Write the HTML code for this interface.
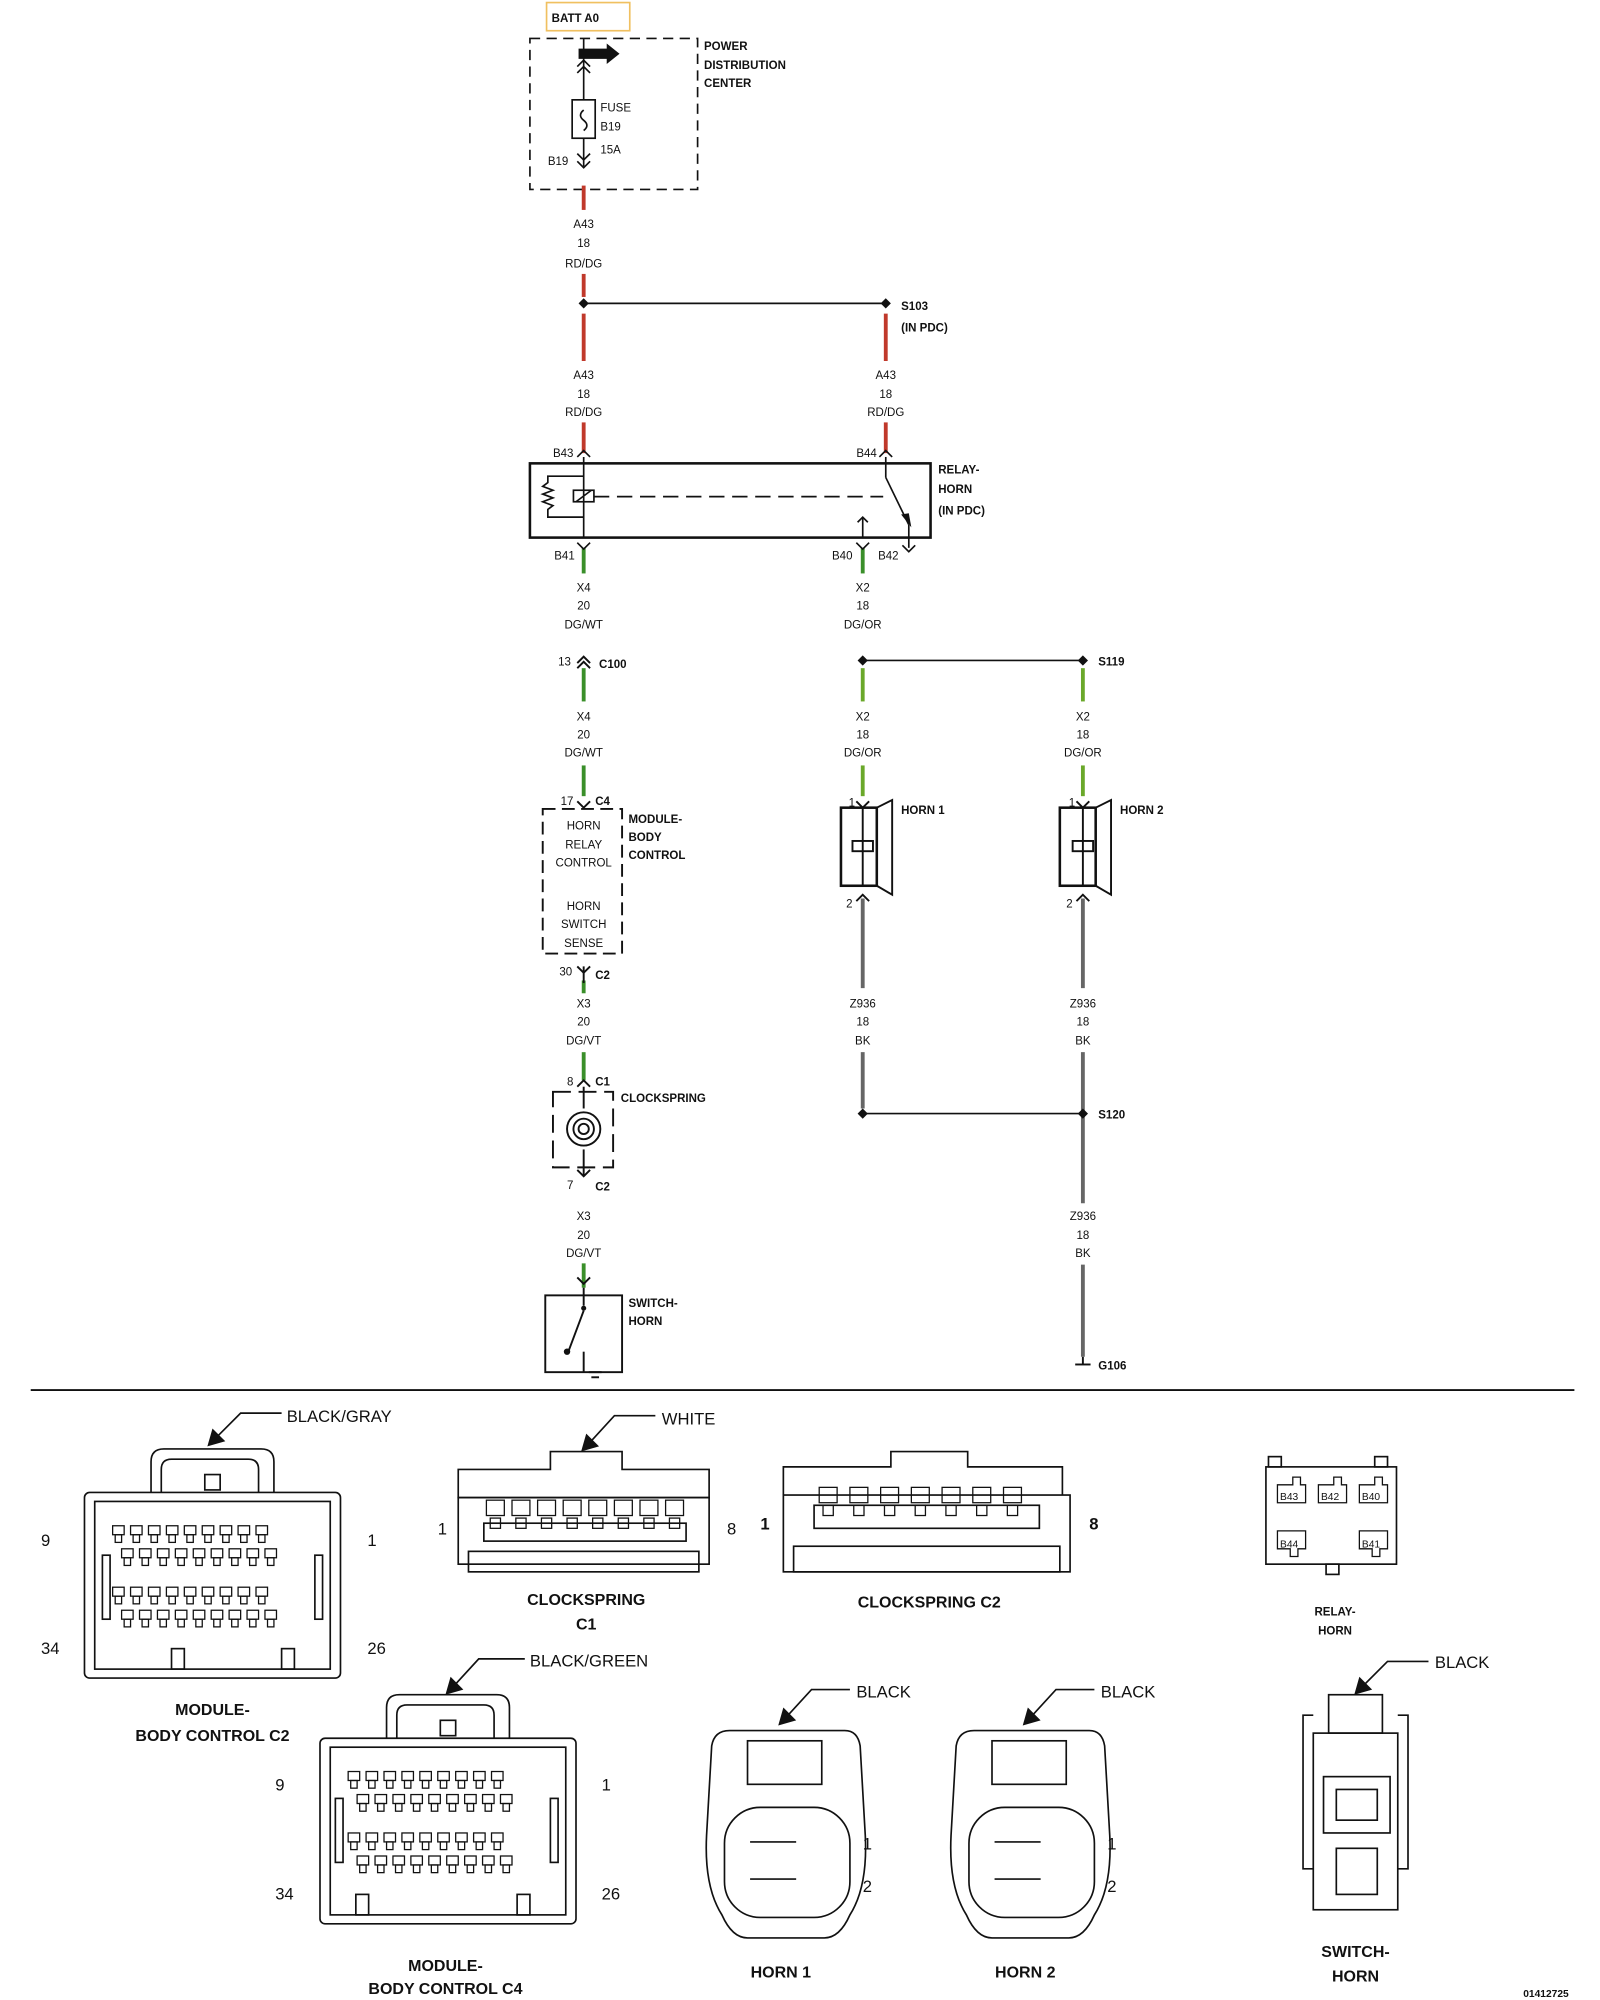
<!DOCTYPE html>
<html><head><meta charset="utf-8"><style>
html,body{margin:0;padding:0;background:#fff;}
svg{display:block;}
text{font-family:"Liberation Sans",sans-serif;font-size:9px;fill:#111;}
.b{font-weight:bold;}
.c{text-anchor:middle;}
.L{font-size:13px;}
.LB{font-size:12.5px;font-weight:bold;text-anchor:middle;}
</style></head><body>
<svg width="1600" height="2000" viewBox="0 0 1250 1562.5" xmlns="http://www.w3.org/2000/svg">
<rect width="1250" height="1562.5" fill="#fff"/>
<g fill="none" stroke="#111" stroke-width="1.3">
<rect x="427" y="2" width="65" height="22" stroke="#f0c060" fill="#fff"/>
<rect x="414" y="30" width="131" height="118" stroke-dasharray="8,5"/>
<line x1="456" y1="30" x2="456" y2="78"/>
<rect x="447" y="78" width="18" height="30"/>
<path d="M456 86 q-5 4 0 8 q5 4 0 8"/>
<line x1="456" y1="108" x2="456" y2="130"/>
<path d="M451 52 l5 -5 l5 5 M451 57 l5 -5 l5 5"/>
<path d="M451 120 l5 5 l5 -5 M451 126 l5 5 l5 -5"/>
</g>
<path d="M452 38 h22 v-4 l10 8 l-10 8 v-4 h-22z" fill="#111"/>
<text x="431" y="17" class="b">BATT A0</text>
<text x="550" y="39" class="b">POWER</text><text x="550" y="54" class="b">DISTRIBUTION</text><text x="550" y="68" class="b">CENTER</text>
<text x="469" y="87">FUSE</text><text x="469" y="102">B19</text><text x="469" y="120">15A</text>
<text x="428" y="129">B19</text>
<g stroke-width="3" fill="none">
<line x1="456" y1="145" x2="456" y2="164" stroke="#c0392b"/>
<line x1="456" y1="214" x2="456" y2="232" stroke="#c0392b"/>
<line x1="456" y1="245" x2="456" y2="282" stroke="#c0392b"/>
<line x1="692" y1="245" x2="692" y2="282" stroke="#c0392b"/>
<line x1="456" y1="330" x2="456" y2="354" stroke="#c0392b"/>
<line x1="692" y1="330" x2="692" y2="354" stroke="#c0392b"/>
<line x1="456" y1="428" x2="456" y2="448" stroke="#3a8f2a"/>
<line x1="674" y1="428" x2="674" y2="448" stroke="#3a8f2a"/>
<line x1="456" y1="522" x2="456" y2="548" stroke="#3a8f2a"/>
<line x1="456" y1="598" x2="456" y2="622" stroke="#3a8f2a"/>
<line x1="674" y1="522" x2="674" y2="548" stroke="#6aa82a"/>
<line x1="846" y1="522" x2="846" y2="548" stroke="#6aa82a"/>
<line x1="674" y1="598" x2="674" y2="622" stroke="#6aa82a"/>
<line x1="846" y1="598" x2="846" y2="622" stroke="#6aa82a"/>
<line x1="456" y1="766" x2="456" y2="776" stroke="#3a8f2a"/>
<line x1="456" y1="822" x2="456" y2="844" stroke="#3a8f2a"/>
<line x1="456" y1="987" x2="456" y2="1006" stroke="#3a8f2a"/>
<line x1="674" y1="702" x2="674" y2="772" stroke="#666"/>
<line x1="846" y1="702" x2="846" y2="772" stroke="#666"/>
<line x1="674" y1="822" x2="674" y2="866" stroke="#666"/>
<line x1="846" y1="822" x2="846" y2="940" stroke="#666"/>
<line x1="846" y1="988" x2="846" y2="1060" stroke="#666"/>
</g>
<g stroke="#111" stroke-width="1.3" fill="none">
<line x1="456" y1="237" x2="692" y2="237"/>
<line x1="674" y1="516" x2="846" y2="516"/>
<line x1="674" y1="870" x2="846" y2="870"/>
</g>
<g fill="#111"><path d="M456 233 l4 4 l-4 4 l-4 -4z"/><path d="M692 233 l4 4 l-4 4 l-4 -4z"/>
<path d="M674 512 l4 4 l-4 4 l-4 -4z"/><path d="M846 512 l4 4 l-4 4 l-4 -4z"/>
<path d="M674 866 l4 4 l-4 4 l-4 -4z"/><path d="M846 866 l4 4 l-4 4 l-4 -4z"/></g>
<g class="c">
<text x="456" y="178" class="c">A43</text><text x="456" y="193" class="c">18</text><text x="456" y="209" class="c">RD/DG</text>
<text x="456" y="296" class="c">A43</text><text x="456" y="311" class="c">18</text><text x="456" y="325" class="c">RD/DG</text>
<text x="692" y="296" class="c">A43</text><text x="692" y="311" class="c">18</text><text x="692" y="325" class="c">RD/DG</text>
<text x="456" y="462" class="c">X4</text><text x="456" y="476" class="c">20</text><text x="456" y="491" class="c">DG/WT</text>
<text x="674" y="462" class="c">X2</text><text x="674" y="476" class="c">18</text><text x="674" y="491" class="c">DG/OR</text>
<text x="456" y="563" class="c">X4</text><text x="456" y="577" class="c">20</text><text x="456" y="591" class="c">DG/WT</text>
<text x="674" y="563" class="c">X2</text><text x="674" y="577" class="c">18</text><text x="674" y="591" class="c">DG/OR</text>
<text x="846" y="563" class="c">X2</text><text x="846" y="577" class="c">18</text><text x="846" y="591" class="c">DG/OR</text>
<text x="456" y="787" class="c">X3</text><text x="456" y="801" class="c">20</text><text x="456" y="816" class="c">DG/VT</text>
<text x="674" y="787" class="c">Z936</text><text x="674" y="801" class="c">18</text><text x="674" y="816" class="c">BK</text>
<text x="846" y="787" class="c">Z936</text><text x="846" y="801" class="c">18</text><text x="846" y="816" class="c">BK</text>
<text x="456" y="953" class="c">X3</text><text x="456" y="968" class="c">20</text><text x="456" y="982" class="c">DG/VT</text>
<text x="846" y="953" class="c">Z936</text><text x="846" y="968" class="c">18</text><text x="846" y="982" class="c">BK</text>
</g>
<text x="704" y="242" class="b">S103</text><text x="704" y="259" class="b">(IN PDC)</text>
<text x="858" y="520" class="b">S119</text><text x="858" y="874" class="b">S120</text>
<g stroke="#111" stroke-width="1.3" fill="none">
<rect x="414" y="362" width="313" height="58" stroke-width="2"/>
<path d="M451 357 l5 -5 l5 5"/><path d="M687 357 l5 -5 l5 5"/>
<line x1="456" y1="357" x2="456" y2="420"/>
<rect x="448" y="383" width="16" height="9"/>
<line x1="450" y1="392" x2="462" y2="383"/>
<path d="M456 372 h-28 v5 l-4 3 l8 3 l-8 3 l8 3 l-8 3 l8 3 l-4 3 v6 h28"/>
<line x1="464" y1="388" x2="690" y2="388" stroke-dasharray="12,6"/>
<line x1="692" y1="357" x2="692" y2="373"/>
<line x1="692" y1="373" x2="710" y2="410"/>
<line x1="710" y1="410" x2="710" y2="428"/>
<line x1="674" y1="404" x2="674" y2="420"/>
<path d="M670 408 l4 -4 l4 4"/>
<path d="M451 424 l5 5 l5 -5"/><path d="M669 424 l5 5 l5 -5"/><path d="M705 426 l5 5 l5 -5"/>
</g>
<path d="M704 402 l8 10 l-2 -11z" fill="#111"/>
<text x="432" y="357">B43</text><text x="669" y="357">B44</text>
<text x="433" y="437">B41</text><text x="650" y="437">B40</text><text x="686" y="437">B42</text>
<text x="733" y="370" class="b">RELAY-</text><text x="733" y="385" class="b">HORN</text><text x="733" y="402" class="b">(IN PDC)</text>
<g stroke="#111" stroke-width="1.5" fill="none"><path d="M451 518 l5 -5 l5 5 M451 522 l5 -5 l5 5"/></g>
<text x="436" y="520">13</text><text x="468" y="522" class="b">C100</text>
<g stroke="#111" stroke-width="1.5" fill="none">
<path d="M451 626 l5 5 l5 -5"/>
<rect x="424" y="632" width="62" height="113" stroke-dasharray="10,5"/>
<path d="M451 755 l5 5 l5 -5"/><line x1="456" y1="755" x2="456" y2="768"/>
</g>
<text x="438" y="629">17</text><text x="465" y="629" class="b">C4</text>
<text x="456" y="648" class="c">HORN</text><text x="456" y="663" class="c">RELAY</text><text x="456" y="677" class="c">CONTROL</text>
<text x="456" y="711" class="c">HORN</text><text x="456" y="725" class="c">SWITCH</text><text x="456" y="740" class="c">SENSE</text>
<text x="491" y="643" class="b">MODULE-</text><text x="491" y="657" class="b">BODY</text><text x="491" y="671" class="b">CONTROL</text>
<text x="437" y="762">30</text><text x="465" y="765" class="b">C2</text>
<g stroke="#111" stroke-width="1.5" fill="none">
<path d="M451 849 l5 -5 l5 5"/>
<rect x="432" y="853" width="47" height="59" stroke-dasharray="14,6"/>
<line x1="456" y1="849" x2="456" y2="866"/><line x1="456" y1="898" x2="456" y2="918"/>
<circle cx="456" cy="882" r="13"/><circle cx="456" cy="882" r="8"/><circle cx="456" cy="882" r="4"/>
<path d="M451 914 l5 5 l5 -5"/>
<path d="M451 998 l5 5 l5 -5"/>
</g>
<text x="443" y="848">8</text><text x="465" y="848" class="b">C1</text>
<text x="485" y="861" class="b">CLOCKSPRING</text>
<text x="443" y="929">7</text><text x="465" y="930" class="b">C2</text>
<g stroke="#111" stroke-width="1.5" fill="none">
<rect x="426" y="1012" width="60" height="60"/>
<line x1="456" y1="1006" x2="456" y2="1020"/>
<line x1="456" y1="1024" x2="444" y2="1056"/>
<line x1="456" y1="1056" x2="456" y2="1072"/>
<line x1="460" y1="1072" x2="470" y2="1072"/><line x1="462" y1="1076" x2="468" y2="1076"/>
</g>
<circle cx="456" cy="1022" r="2" fill="#111"/><circle cx="443" cy="1056" r="2.5" fill="#111"/>
<text x="491" y="1021" class="b">SWITCH-</text><text x="491" y="1035" class="b">HORN</text>
<g stroke="#111" stroke-width="1.5" fill="none">
<path d="M669 626 l5 5 l5 -5"/><path d="M841 626 l5 5 l5 -5"/>
<rect x="657" y="631" width="28" height="61" stroke-width="2"/>
<path d="M685 631 l12 -6 v74 l-12 -7"/>
<rect x="666" y="657" width="16" height="8"/>
<line x1="674" y1="631" x2="674" y2="692"/>
<rect x="828" y="631" width="28" height="61" stroke-width="2"/>
<path d="M856 631 l12 -6 v74 l-12 -7"/>
<rect x="838" y="657" width="16" height="8"/>
<line x1="846" y1="631" x2="846" y2="692"/>
<path d="M669 704 l5 -5 l5 5"/><path d="M841 704 l5 -5 l5 5"/>
<line x1="840" y1="1066" x2="852" y2="1066"/><line x1="846" y1="1060" x2="846" y2="1066"/>
</g>
<text x="663" y="630">1</text><text x="835" y="630">1</text>
<text x="661" y="709">2</text><text x="833" y="709">2</text>
<text x="704" y="636" class="b">HORN 1</text><text x="875" y="636" class="b">HORN 2</text>
<text x="858" y="1070" class="b">G106</text>
<line x1="24" y1="1086" x2="1230" y2="1086" stroke="#111" stroke-width="1.5"/>
<g stroke="#111" stroke-width="1.3" fill="none">
<rect x="66" y="1166" width="200" height="145" rx="4"/>
<rect x="74" y="1173" width="184" height="131"/>
<path d="M118 1166 v-24 q0 -10 10 -10 h76 q10 0 10 10 v24"/>
<path d="M126 1166 v-18 q0 -8 8 -8 h60 q8 0 8 8 v18"/>
<rect x="160" y="1152" width="12" height="12"/>
<rect x="134" y="1288" width="10" height="16"/><rect x="220" y="1288" width="10" height="16"/>
<rect x="80" y="1215" width="6" height="50"/><rect x="246" y="1215" width="6" height="50"/>
<rect x="250" y="1358" width="200" height="145" rx="4"/>
<rect x="258" y="1365" width="184" height="131"/>
<path d="M302 1358 v-24 q0 -10 10 -10 h76 q10 0 10 10 v24"/>
<path d="M310 1358 v-18 q0 -8 8 -8 h60 q8 0 8 8 v18"/>
<rect x="344" y="1344" width="12" height="12"/>
<rect x="278" y="1480" width="10" height="16"/><rect x="404" y="1480" width="10" height="16"/>
<rect x="262" y="1405" width="6" height="50"/><rect x="430" y="1405" width="6" height="50"/>
<path d="M358 1170 v-22 h72 v-14 h56 v14 h68 v22 z"/>
<rect x="358" y="1170" width="196" height="52"/>
<rect x="366" y="1212" width="180" height="16"/>
<rect x="378" y="1190" width="158" height="14"/>
<path d="M612 1168 v-22 h84 v-12 h60 v12 h74 v22"/>
<rect x="612" y="1168" width="224" height="60"/>
<rect x="620" y="1208" width="208" height="20"/>
<rect x="636" y="1176" width="176" height="18"/>
<rect x="989" y="1146" width="102" height="76"/>
<rect x="991" y="1138" width="10" height="8"/><rect x="1074" y="1138" width="10" height="8"/>
<rect x="1036" y="1222" width="10" height="8"/>
<path d="M570 1352 h90 q10 0 12 12 l4 70 q2 40 -12 62 q-8 18 -20 18 h-60 q-12 0 -20 -18 q-14 -22 -12 -62 l4 -70 q2 -12 14 -12z"/>
<rect x="566" y="1412" width="98" height="86" rx="28"/>
<rect x="584" y="1360" width="58" height="34"/>
<line x1="586" y1="1439" x2="622" y2="1439"/><line x1="586" y1="1468" x2="622" y2="1468"/>
<path d="M761 1352 h90 q10 0 12 12 l4 70 q2 40 -12 62 q-8 18 -20 18 h-60 q-12 0 -20 -18 q-14 -22 -12 -62 l4 -70 q2 -12 14 -12z"/>
<rect x="757" y="1412" width="98" height="86" rx="28"/>
<rect x="775" y="1360" width="58" height="34"/>
<line x1="777" y1="1439" x2="813" y2="1439"/><line x1="777" y1="1468" x2="813" y2="1468"/>
<rect x="1026" y="1354" width="66" height="138"/>
<rect x="1038" y="1324" width="42" height="30"/>
<path d="M1026 1340 h-8 v120 h8 M1092 1340 h8 v120 h-8"/>
<rect x="1034" y="1388" width="52" height="44"/><rect x="1044" y="1398" width="32" height="24"/>
<rect x="1044" y="1444" width="32" height="36"/>
</g>
<defs><g id="pin"><rect x="0" y="0" width="9" height="7" fill="none" stroke="#111"/><rect x="2" y="7" width="5" height="6" fill="none" stroke="#111"/></g>
<g id="row"><use href="#pin" x="0"/><use href="#pin" x="14"/><use href="#pin" x="28"/><use href="#pin" x="42"/><use href="#pin" x="56"/><use href="#pin" x="70"/><use href="#pin" x="84"/><use href="#pin" x="98"/><use href="#pin" x="112"/></g>
<g id="grid"><use href="#row" x="0" y="0"/><use href="#row" x="7" y="18"/><use href="#row" x="0" y="48"/><use href="#row" x="7" y="66"/></g>
<g id="cs"><rect x="0" y="0" width="14" height="12" fill="none" stroke="#111"/><rect x="3" y="14" width="8" height="8" fill="none" stroke="#111"/></g>
</defs>
<use href="#grid" x="88" y="1192"/>
<use href="#grid" x="272" y="1384"/>
<g><use href="#cs" x="380" y="1172"/><use href="#cs" x="400" y="1172"/><use href="#cs" x="420" y="1172"/><use href="#cs" x="440" y="1172"/><use href="#cs" x="460" y="1172"/><use href="#cs" x="480" y="1172"/><use href="#cs" x="500" y="1172"/><use href="#cs" x="520" y="1172"/></g>
<g><use href="#cs" x="640" y="1162"/><use href="#cs" x="664" y="1162"/><use href="#cs" x="688" y="1162"/><use href="#cs" x="712" y="1162"/><use href="#cs" x="736" y="1162"/><use href="#cs" x="760" y="1162"/><use href="#cs" x="784" y="1162"/></g>
<g stroke="#111" stroke-width="1" fill="none">
<path d="M998 1160 h12 v-6 h6 v6 h4 v14 h-22z"/><path d="M1030 1160 h12 v-6 h6 v6 h4 v14 h-22z"/><path d="M1062 1160 h12 v-6 h6 v6 h4 v14 h-22z"/>
<path d="M998 1196 h22 v14 h-6 v6 h-6 v-6 h-10z"/><path d="M1062 1196 h22 v14 h-6 v6 h-6 v-6 h-10z"/>
</g>
<g stroke="#111" stroke-width="1.3" fill="none">
<polyline points="166,1126 188,1104 220,1104"/><polyline points="458,1130 480,1106 512,1106"/>
<polyline points="352,1320 374,1296 410,1296"/><polyline points="612,1344 634,1320 664,1320"/>
<polyline points="803,1344 825,1320 855,1320"/><polyline points="1062,1320 1084,1298 1116,1298"/>
</g>
<g fill="#111">
<path d="M162 1130 l4 -14 l10 10z"/><path d="M454 1134 l4 -14 l10 10z"/><path d="M348 1324 l4 -14 l10 10z"/>
<path d="M608 1348 l4 -14 l10 10z"/><path d="M799 1348 l4 -14 l10 10z"/><path d="M1058 1324 l4 -14 l10 10z"/>
</g>
<text x="224" y="1111" class="L">BLACK/GRAY</text><text x="517" y="1113" class="L">WHITE</text>
<text x="414" y="1302" class="L">BLACK/GREEN</text><text x="669" y="1326" class="L">BLACK</text>
<text x="860" y="1326" class="L">BLACK</text><text x="1121" y="1303" class="L">BLACK</text>
<text x="32" y="1208" class="L">9</text><text x="287" y="1208" class="L">1</text>
<text x="32" y="1292" class="L">34</text><text x="287" y="1292" class="L">26</text>
<text x="215" y="1399" class="L">9</text><text x="470" y="1399" class="L">1</text>
<text x="215" y="1484" class="L">34</text><text x="470" y="1484" class="L">26</text>
<text x="342" y="1199" class="L">1</text><text x="568" y="1199" class="L">8</text>
<text x="594" y="1195" class="L b">1</text><text x="851" y="1195" class="L b">8</text>
<text x="674" y="1445" class="L">1</text><text x="674" y="1478" class="L">2</text>
<text x="865" y="1445" class="L">1</text><text x="865" y="1478" class="L">2</text>
<text x="1000" y="1172" style="font-size:8px">B43</text><text x="1032" y="1172" style="font-size:8px">B42</text><text x="1064" y="1172" style="font-size:8px">B40</text>
<text x="1000" y="1209" style="font-size:8px">B44</text><text x="1064" y="1209" style="font-size:8px">B41</text>
<text x="166" y="1340" class="LB">MODULE-</text><text x="166" y="1360" class="LB">BODY CONTROL C2</text>
<text x="458" y="1254" class="LB">CLOCKSPRING</text><text x="458" y="1273" class="LB">C1</text>
<text x="726" y="1256" class="LB">CLOCKSPRING C2</text>
<text x="1043" y="1262" class="b c">RELAY-</text><text x="1043" y="1277" class="b c">HORN</text>
<text x="348" y="1540" class="LB">MODULE-</text><text x="348" y="1558" class="LB">BODY CONTROL C4</text>
<text x="610" y="1545" class="LB">HORN 1</text><text x="801" y="1545" class="LB">HORN 2</text>
<text x="1059" y="1529" class="LB">SWITCH-</text><text x="1059" y="1548" class="LB">HORN</text>
<text x="1190" y="1560" class="b" style="font-size:8px">01412725</text>
</svg>
</body></html>
